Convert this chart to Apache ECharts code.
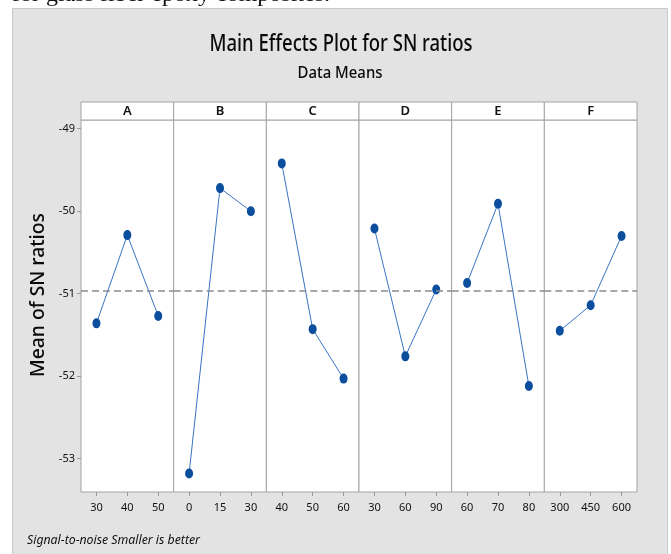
<!DOCTYPE html>
<html>
<head>
<meta charset="utf-8">
<script src="https://cdn.jsdelivr.net/npm/echarts@6/dist/echarts.min.js"></script>
<style>
  html, body { margin: 0; padding: 0; background: #ffffff; }
  #chart { width: 671px; height: 554px; }
</style>
</head>
<body>
<div id="chart"></div>
<script>
// Factors and their levels
const factors = ['A', 'B', 'C', 'D', 'E', 'F'];
const levelsA = ['30', '40', '50'];
const levelsB = ['0', '15', '30'];
const levelsC = ['40', '50', '60'];
const levelsD = ['30', '60', '90'];
const levelsE = ['60', '70', '80'];
const levelsF = ['300', '450', '600'];

// Mean S/N ratio at each level (smaller is better)
const snA = [-51.36, -50.29, -51.27];
const snB = [-53.18, -49.72, -50.00];
const snC = [-49.42, -51.43, -52.03];
const snD = [-50.21, -51.76, -50.95];
const snE = [-50.87, -49.91, -52.12];
const snF = [-51.45, -51.14, -50.30];

// Value-axis tick labels
const yTicks = [-53, -52, -51, -50, -49];

const levels = [levelsA, levelsB, levelsC, levelsD, levelsE, levelsF];
const sn = [snA, snB, snC, snD, snE, snF];

// Grand mean (dashed reference line)
const allVals = sn.flat();
const grandMean = allVals.reduce((a, b) => a + b, 0) / allVals.length;

// Layout
const plotLeft = 81, plotRight = 637, plotTop = 120, plotBottom = 492, headerTop = 102;
const panelW = (plotRight - plotLeft) / factors.length;
const yMin = -53.405, yMax = -48.894;
const frameColor = '#a3a3a3';
const uiFont = '"Noto Sans", "Open Sans", sans-serif';

// Horizontal squeeze so a string fits a given width
const ctx = document.createElement('canvas').getContext('2d');
function fitScale(text, font, targetWidth) {
  ctx.font = font;
  return targetWidth / ctx.measureText(text).width;
}

function label(text, x, y, font, width, extra) {
  return Object.assign({
    type: 'text',
    x: x, y: y,
    scaleX: fitScale(text, font, width),
    style: { text: text, font: font, fill: '#0a0a0a', align: 'center', verticalAlign: 'middle' }
  }, extra || {});
}

const grids = [], xAxes = [], yAxes = [], series = [], graphics = [];

// Gray page panel
graphics.push({
  type: 'rect', z: -10,
  shape: { x: 12.5, y: 8.5, width: 655, height: 560 },
  style: { fill: '#e3e3e3', stroke: '#c9c9c9', lineWidth: 1 }
});

// Cut-off caption line above the panel
const capFont = '22px "Liberation Serif", "Times New Roman", serif';
graphics.push({
  type: 'text', x: 12, y: 6, z: -5,
  scaleX: fitScale('for glass fiber epoxy composites.', capFont, 318),
  style: { text: 'for glass fiber epoxy composites.', font: capFont, fill: '#111', align: 'left', verticalAlign: 'bottom' }
});

// Titles
graphics.push(label('Main Effects Plot for SN ratios', 341, 44, '500 23px ' + uiFont, 263));
graphics.push(label('Data Means', 340, 73, '500 17px ' + uiFont, 85));

// Axis title
graphics.push(label('Mean of SN ratios', 38, 295, '500 20px ' + uiFont, 164, { rotation: Math.PI / 2 }));

// Footnote
const footFont = 'italic 13px ' + uiFont;
graphics.push({
  type: 'text', x: 27, y: 540,
  scaleX: fitScale('Signal-to-noise Smaller is better', footFont, 173),
  style: { text: 'Signal-to-noise Smaller is better', font: footFont, fill: '#111', align: 'left', verticalAlign: 'middle' }
});

factors.forEach((f, i) => {
  const left = plotLeft + i * panelW;
  grids.push({
    left: left, top: plotTop, width: panelW, height: plotBottom - plotTop,
    show: true, backgroundColor: '#ffffff', borderColor: frameColor, borderWidth: 1
  });
  xAxes.push({
    type: 'category', gridIndex: i, data: levels[i], boundaryGap: true,
    axisLine: { show: false },
    axisTick: { show: true, alignWithLabel: true, length: 4, lineStyle: { color: '#9a9a9a' } },
    axisLabel: { fontSize: 11, color: '#111', margin: 10, fontFamily: uiFont },
    splitLine: { show: false }
  });
  yAxes.push({
    type: 'value', gridIndex: i, min: yMin, max: yMax,
    axisLine: { show: false },
    axisTick: { show: i === 0, length: 4, customValues: yTicks, lineStyle: { color: '#9a9a9a' } },
    axisLabel: { show: i === 0, customValues: yTicks, fontSize: 11, color: '#111', margin: 6, fontFamily: uiFont },
    splitLine: { show: false }
  });
  series.push({
    type: 'line', xAxisIndex: i, yAxisIndex: i, data: sn[i],
    symbol: 'circle', symbolSize: [8, 10],
    itemStyle: { color: '#0b4e9e' },
    lineStyle: { color: '#3a74c4', width: 1 },
    markLine: {
      silent: true, symbol: ['none', 'none'], label: { show: false },
      lineStyle: { type: [7, 4], color: '#8a8a8a', width: 1.5 },
      data: [{ yAxis: grandMean }]
    }
  });
  // Factor strip header
  graphics.push({
    type: 'rect',
    shape: { x: left, y: headerTop, width: panelW, height: plotTop - headerTop },
    style: { fill: '#ffffff', stroke: frameColor, lineWidth: 1 }
  });
  graphics.push({
    type: 'text', x: left + panelW / 2, y: (headerTop + plotTop) / 2 + 0.5,
    style: { text: f, font: '600 13px ' + uiFont, fill: '#111', align: 'center', verticalAlign: 'middle' }
  });
});

const chart = echarts.init(document.getElementById('chart'), null, { renderer: 'canvas' });
chart.setOption({
  animation: false,
  backgroundColor: '#ffffff',
  grid: grids,
  xAxis: xAxes,
  yAxis: yAxes,
  series: series,
  graphic: graphics
});
</script>
</body>
</html>
